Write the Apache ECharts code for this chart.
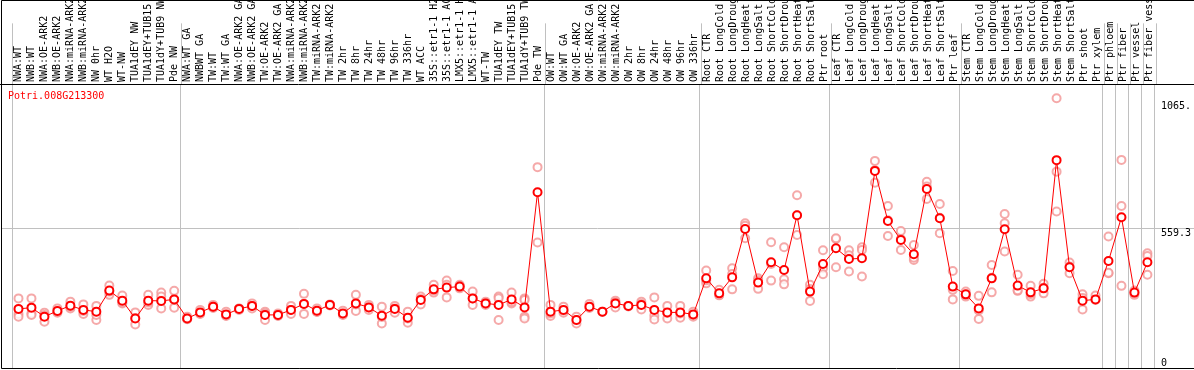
<!DOCTYPE html>
<html>
<head>
<meta charset="utf-8">
<script src="https://cdn.jsdelivr.net/npm/echarts@6/dist/echarts.min.js"></script>
<style>html,body{margin:0;padding:0;background:#fff;}#c{width:1194px;height:370px;}</style>
</head>
<body>
<div id="c"></div>
<script>
const title = 'Potri.008G213300';
const categories = [
 'NWA:WT','NWB:WT','NWA:OE-ARK2','NWB:OE-ARK2','NWA:miRNA-ARK2','NWB:miRNA-ARK2','NW 0hr','WT H2O','WT-NW','TUA1dEY NW','TUA1dEY+TUB15 NW','TUA1dY+TUB9 NW','Pde NW',
 'NWA:WT GA','NWBWT GA','TW:WT','TW:WT GA','NWA:OE-ARK2 GA','NWB:OE-ARK2 GA','TW:OE-ARK2','TW:OE-ARK2 GA','NWA:miRNA-ARK2 GA','NWB:miRNA-ARK2 GA','TW:miRNA-ARK2','TW:miRNA-ARK2 GA','TW 2hr','TW 8hr','TW 24hr','TW 48hr','TW 96hr','TW 336hr','WT ACC','35S::etr1-1 H2O','35S::etr1-1 ACC','LMX5::etr1-1 H2O','LMX5::etr1-1 ACC','WT-TW','TUA1dEY TW','TUA1dEY+TUB15 TW','TUA1dY+TUB9 TW','Pde TW',
 'OW:WT','OW:WT GA','OW:OE-ARK2','OW:OE-ARK2 GA','OW:miRNA-ARK2','OW:miRNA-ARK2 GA','OW 2hr','OW 8hr','OW 24hr','OW 48hr','OW 96hr','OW 336hr',
 'Root CTR','Root LongCold','Root LongDrought','Root LongHeat','Root LongSalt','Root ShortCold','Root ShortDrought','Root ShortHeat','Root ShortSalt','Ptr root',
 'Leaf CTR','Leaf LongCold','Leaf LongDrought','Leaf LongHeat','Leaf LongSalt','Leaf ShortCold','Leaf ShortDrought','Leaf ShortHeat','Leaf ShortSalt','Ptr leaf',
 'Stem CTR','Stem LongCold','Stem LongDrought','Stem LongHeat','Stem LongSalt','Stem ShortCold','Stem ShortDrought','Stem ShortHeat','Stem ShortSalt','Ptr shoot','Ptr xylem',
 'Ptr phloem','Ptr fiber','Ptr vessel','Ptr fiber vessel'
];
// index of first category of each group (separator lines drawn before these)
const groupStarts = [0, 13, 41, 53, 63, 73, 84, 85, 86, 87];
const means = [
 236,241,205,228,249,232,225,309,269,198,269,268,274,
 198,222,245,214,236,248,212,212,232,256,229,252,218,258,242,209,236,201,272,314,321,325,278,258,252,274,242,702,
 225,232,192,245,225,258,248,252,232,222,222,214,
 358,298,362,555,341,422,391,610,305,415,
 478,435,438,787,587,511,454,715,598,325,
 294,238,358,554,329,302,318,830,402,269,274,
 427,602,301,422
];
const replicates = [
 [278,216,205],[278,218,212],[221,185,212],[238,221,225],[265,238,245],[254,216,228],[248,192,212],[329,292,305],[289,258,262],[222,174,200],[292,252,262],[301,285,238],[308,241,272],
 [205,195,196],[232,218,216],[252,240,244],[225,210,208],[238,232,237],[258,238,248],[225,192,218],[218,208,210],[248,216,232],[296,216,256],[238,225,224],[254,250,252],[229,214,212],[292,228,254],[252,232,242],[245,178,204],[248,221,238],[225,181,198],[285,254,276],[332,301,310],[349,282,332],[332,318,326],[305,252,278],[265,252,258],[285,192,279],[301,258,264],[278,272,205,198],[802,501],
 [252,208,218],[245,221,230],[205,178,192],[256,240],[225,224],[269,242,262],[248,246],[265,234,256],[282,209,194],[248,198,220],[248,201,218],[225,205,212],
 [389,338,350],[312,292,290],[398,314,375],[578,518,568],[358,316,350],[502,349,415],[482,354,334],[690,531,610],[332,268,315],[470,398,374],
 [515,518,402],[470,385,450],[482,471,365],[827,740,790],[647,527,590],[547,471,515],[491,431,440],[744,675,725],[655,538,600],[387,312,274],
 [305,285,292],[288,196,230],[411,302,360],[615,578,465],[372,308,310],[328,285,295],[336,298,320],[1077,625,784],[421,378,405],[294,234,280],[289,272],
 [525,378,380],[831,647,328],[309,292,300],[458,447,372]
];
const yMax = 1130;
const yTickValues = [0, 559.3, 1065];
const yTickLabels = ['0', '559.3', '1065.'];
const gridLineValue = 559.3;

const MONO = 'DejaVu Sans Mono';
const repPoints = [];
replicates.forEach((arr, i) => arr.forEach(v => repPoints.push([i, v])));
const sepInterval = (idx) => groupStarts.indexOf(idx) >= 0;
const labelOf = (v) => { const k = yTickValues.findIndex(t => Math.abs(t - v) < 1e-6); return k >= 0 ? yTickLabels[k] : ''; };
const sep = { show: true, interval: sepInterval, lineStyle: { color: '#c0c0c0', width: 1 } };

const chart = echarts.init(document.getElementById('c'), null, { renderer: 'canvas' });
chart.setOption({
  animation: false,
  backgroundColor: '#fff',
  title: { text: title, left: 8, top: 91, padding: 0, textStyle: { color: '#ff0000', fontFamily: MONO, fontSize: 10, fontWeight: 'normal' } },
  grid: [
    { left: 12, top: 0, width: 1144, height: 85 },
    { left: 12, top: 85, width: 1144, bottom: 2 }
  ],
  xAxis: [
    { type: 'category', gridIndex: 0, data: categories, position: 'bottom',
      axisLine: { show: false }, axisTick: { show: false }, splitLine: sep,
      axisLabel: { inside: true, rotate: 90, interval: 0, margin: 3, color: '#000', fontFamily: MONO, fontSize: 10 } },
    { type: 'category', gridIndex: 1, data: categories, position: 'bottom',
      axisLine: { show: false }, axisTick: { show: false }, axisLabel: { show: false }, splitLine: sep }
  ],
  yAxis: [
    { type: 'value', gridIndex: 1, min: 0, max: yMax, position: 'right',
      axisLine: { show: false }, axisTick: { show: false }, splitLine: { show: false },
      axisLabel: { customValues: yTickValues.filter(v => v > 0), formatter: labelOf, verticalAlign: 'top', margin: 7, color: '#000', fontFamily: MONO, fontSize: 10 } },
    { type: 'value', gridIndex: 1, min: 0, max: yMax, position: 'right',
      axisLine: { show: false }, axisTick: { show: false }, splitLine: { show: false },
      axisLabel: { customValues: yTickValues.filter(v => v === 0), formatter: labelOf, verticalAlign: 'bottom', margin: 7, color: '#000', fontFamily: MONO, fontSize: 10 } },
    { type: 'value', gridIndex: 0, show: false }
  ],
  series: [
    { type: 'scatter', xAxisIndex: 1, yAxisIndex: 0, data: repPoints, symbol: 'emptyCircle', symbolSize: 8,
      itemStyle: { color: '#f29393', borderColor: '#f29393', borderWidth: 1.3 }, z: 2, silent: true },
    { type: 'line', xAxisIndex: 1, yAxisIndex: 0, data: means, symbol: 'emptyCircle', symbolSize: 8, showAllSymbol: true,
      lineStyle: { color: '#ff0000', width: 1 }, itemStyle: { color: '#ff0000', borderColor: '#ff0000', borderWidth: 1.6 }, z: 3, silent: true }
  ]
});

const yTop = chart.convertToPixel({ yAxisIndex: 0 }, yMax);
const yZero = chart.convertToPixel({ yAxisIndex: 0 }, 0);
const yGrid = chart.convertToPixel({ yAxisIndex: 0 }, gridLineValue);
const r = (v) => Math.round(v) + 0.5;
chart.setOption({
  graphic: [
    { type: 'line', z: 0, shape: { x1: 1, y1: r(yGrid), x2: 1194, y2: r(yGrid) }, style: { stroke: '#c0c0c0', lineWidth: 1 } },
    { type: 'line', z: 10, shape: { x1: 0, y1: r(yTop) - 1, x2: 1194, y2: r(yTop) - 1 }, style: { stroke: '#000', lineWidth: 1 } },
    { type: 'rect', z: 10, shape: { x: 1.5, y: 0.5, width: 1200, height: r(yZero) - 0.5 }, style: { fill: 'none', stroke: '#000', lineWidth: 1 } }
  ]
});
</script>
</body>
</html>
